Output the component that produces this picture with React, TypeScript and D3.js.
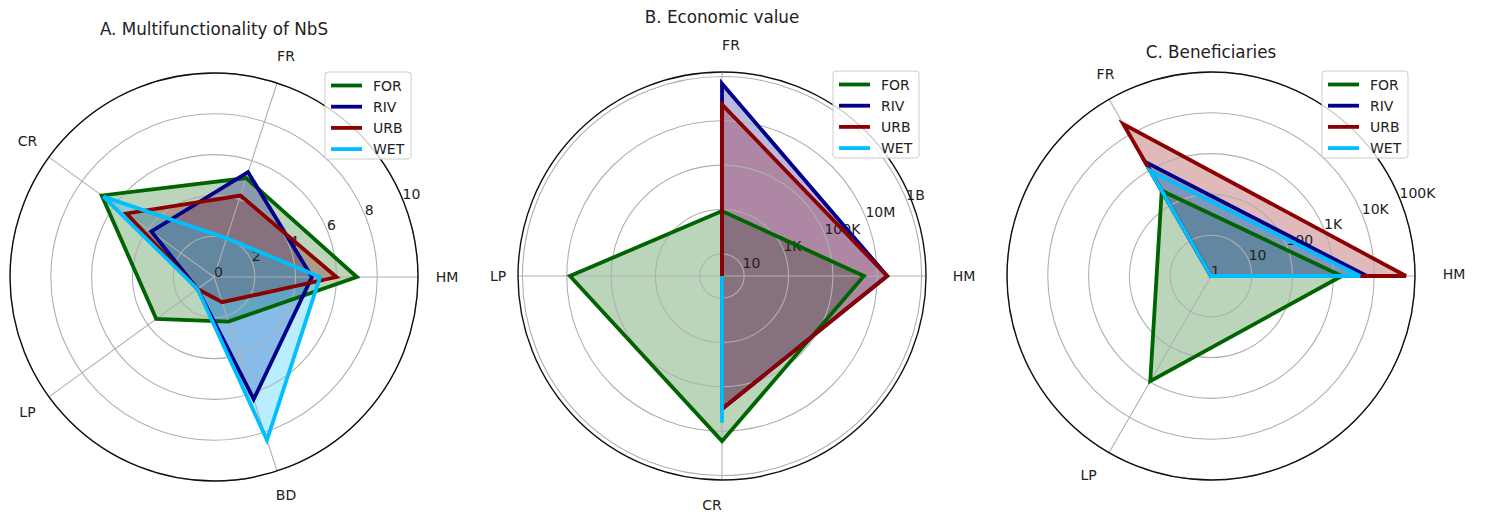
import React from "react";
import * as d3 from "d3";

// ---------- DATA ----------
const SERIES = ["FOR", "RIV", "URB", "WET"];
const COLORS = ["#006400", "#00008b", "#8b0000", "#00bfff"];

// Panel A: Multifunctionality of NbS (linear 0..10)
const CATS_A = ["HM", "FR", "CR", "LP", "BD"];
const FOR_A = [7.0, 5.1, 6.8, 3.5, 2.3];
const RIV_A = [4.8, 5.4, 3.8, 1.0, 6.3];
const URB_A = [6.0, 4.2, 5.3, 1.0, 1.3];
const WET_A = [5.2, 2.0, 6.7, 1.0, 8.4];
const TICKS_A = [0, 2, 4, 6, 8, 10];
const TICKLABELS_A = ["0", "2", "4", "6", "8", "10"];

// Panel B: Economic value (log)
const CATS_B = ["HM", "FR", "LP", "CR"];
const FOR_B = [2.5e6, 850, 7.2e6, 2.8e7];
const RIV_B = [2.8e7, 4.7e8, 0, 1.0e6];
const URB_B = [2.8e7, 5.5e7, 0, 1.0e6];
const WET_B = [0, 0, 0, 4.1e6];
const TICKS_B = [10, 1e3, 1e5, 1e7, 1e9];
const TICKLABELS_B = ["10", "1K", "100K", "10M", "1B"];

// Panel C: Beneficiaries (log)
const CATS_C = ["HM", "FR", "LP"];
const FOR_C = [1600, 260, 950];
const RIV_C = [6600, 1700, 0];
const URB_C = [60000, 20000, 0];
const WET_C = [4500, 950, 0];
const TICKS_C = [1, 10, 100, 1e3, 1e4, 1e5];
const TICKLABELS_C = ["1", "10", "100", "1K", "10K", "100K"];

// ---------- LAYOUT ----------
const W = 1485;
const H = 514;
const R = 204;
const FONT = "DejaVu Sans, Liberation Sans, sans-serif";

type Panel = {
  title: string;
  cats: string[];
  values: number[][];
  ticks: number[];
  tickLabels: string[];
  scale: (v: number) => number;
  cx: number;
  cy: number;
  titleY: number;
  labelDx: number[];
  labelDy: number[];
};

const panels: Panel[] = [
  {
    title: "A. Multifunctionality of NbS",
    cats: CATS_A,
    values: [FOR_A, RIV_A, URB_A, WET_A],
    ticks: TICKS_A,
    tickLabels: TICKLABELS_A,
    scale: d3.scaleLinear().domain([0, 10]).range([0, R]),
    cx: 214,
    cy: 277,
    titleY: 35,
    labelDx: [0, 0, 2, 2, 0],
    labelDy: [0, 1, 1, -2, -4],
  },
  {
    title: "B. Economic value",
    cats: CATS_B,
    values: [FOR_B, RIV_B, URB_B, WET_B],
    ticks: TICKS_B,
    tickLabels: TICKLABELS_B,
    scale: (() => {
      const s = d3.scaleLog().domain([1, Math.pow(10, 9.2)]).range([0, R]).clamp(true);
      return (v: number) => s(Math.max(v, 1));
    })(),
    cx: 722,
    cy: 276,
    titleY: 23,
    labelDx: [9, 9, 9, -10],
    labelDy: [0, 2, 0, -4],
  },
  {
    title: "C. Beneficiaries",
    cats: CATS_C,
    values: [FOR_C, RIV_C, URB_C, WET_C],
    ticks: TICKS_C,
    tickLabels: TICKLABELS_C,
    scale: (() => {
      const s = d3.scaleLog().domain([1, 1e5]).range([0, R]).clamp(true);
      return (v: number) => s(Math.max(v, 1));
    })(),
    cx: 1211,
    cy: 276,
    titleY: 58,
    labelDx: [10, 11, -6],
    labelDy: [-2, 0, -3],
  },
];

const RLABEL_ANGLE = (22.5 * Math.PI) / 180;

function RadarPanel({ p }: { p: Panel }) {
  const n = p.cats.length;
  const ang = d3.scaleLinear().domain([0, n]).range([0, 2 * Math.PI]);
  const px = (i: number, r: number) => p.cx + r * Math.cos(ang(i));
  const py = (i: number, r: number) => p.cy - r * Math.sin(ang(i));
  const line = d3
    .line<number>()
    .x((v, i) => px(i, p.scale(v)))
    .y((v, i) => py(i, p.scale(v)))
    .curve(d3.curveLinearClosed);

  const gridColor = "#b0b0b0";
  const legendW = 86;
  const legendH = 87;
  const lx = p.cx + R - 7 - legendW;
  const ly = p.cy - R - 1;

  return (
    <g>
      {/* fills */}
      {p.values.map((vals, k) => (
        <path key={"f" + k} d={line(vals) || ""} fill={COLORS[k]} fillOpacity={0.27} stroke="none" />
      ))}
      {/* grid rings */}
      {p.ticks.map((t, k) => {
        const r = p.scale(t);
        return r > 0.5 ? (
          <circle key={"g" + k} cx={p.cx} cy={p.cy} r={r} fill="none" stroke={gridColor} strokeWidth={1.1} />
        ) : null;
      })}
      {/* spokes */}
      {p.cats.map((c, i) => (
        <line key={"s" + i} x1={p.cx} y1={p.cy} x2={px(i, R)} y2={py(i, R)} stroke={gridColor} strokeWidth={1.1} />
      ))}
      {/* radial tick labels */}
      {p.ticks.map((t, k) => {
        const r = p.scale(t);
        return (
          <text
            key={"t" + k}
            x={p.cx + r * Math.cos(RLABEL_ANGLE)}
            y={p.cy - r * Math.sin(RLABEL_ANGLE)}
            fontSize={14}
            fontFamily={FONT}
            fill="#222"
            textAnchor="start"
          >
            {p.tickLabels[k]}
          </text>
        );
      })}
      {/* category labels */}
      {p.cats.map((c, i) => (
        <text
          key={"c" + i}
          x={px(i, 233) + p.labelDx[i]}
          y={py(i, 233) + p.labelDy[i]}
          fontSize={14}
          fontFamily={FONT}
          fill="#222"
          textAnchor="middle"
          dominantBaseline="central"
        >
          {c}
        </text>
      ))}
      {/* lines */}
      {p.values.map((vals, k) => (
        <path
          key={"l" + k}
          d={line(vals) || ""}
          fill="none"
          stroke={COLORS[k]}
          strokeWidth={3.8}
          strokeLinejoin="miter"
        />
      ))}
      {/* outer spine */}
      <circle cx={p.cx} cy={p.cy} r={R} fill="none" stroke="#111" strokeWidth={1.4} />
      {/* title */}
      <text x={p.cx} y={p.titleY} fontSize={16.8} fontFamily={FONT} fill="#222" textAnchor="middle">
        {p.title}
      </text>
      {/* legend */}
      <g>
        <rect x={lx} y={ly} width={legendW} height={legendH} rx={3} fill="#fff" fillOpacity={0.8} stroke="#cccccc" strokeWidth={1} />
        {SERIES.map((s, k) => {
          const yy = ly + 13.5 + k * 21.2;
          return (
            <g key={"lg" + k}>
              <line x1={lx + 6} x2={lx + 37} y1={yy} y2={yy} stroke={COLORS[k]} strokeWidth={3.8} />
              <text x={lx + 48} y={yy} fontSize={14} fontFamily={FONT} fill="#222" dominantBaseline="central">
                {s}
              </text>
            </g>
          );
        })}
      </g>
    </g>
  );
}

export default function App() {
  return (
    <div style={{ position: "absolute", left: 0, top: 0 }}>
      <svg width={W} height={H} viewBox={`0 0 ${W} ${H}`} style={{ display: "block", background: "#fff" }}>
        <rect width={W} height={H} fill="#fff" />
        {panels.map((p, i) => (
          <RadarPanel key={i} p={p} />
        ))}
      </svg>
    </div>
  );
}
